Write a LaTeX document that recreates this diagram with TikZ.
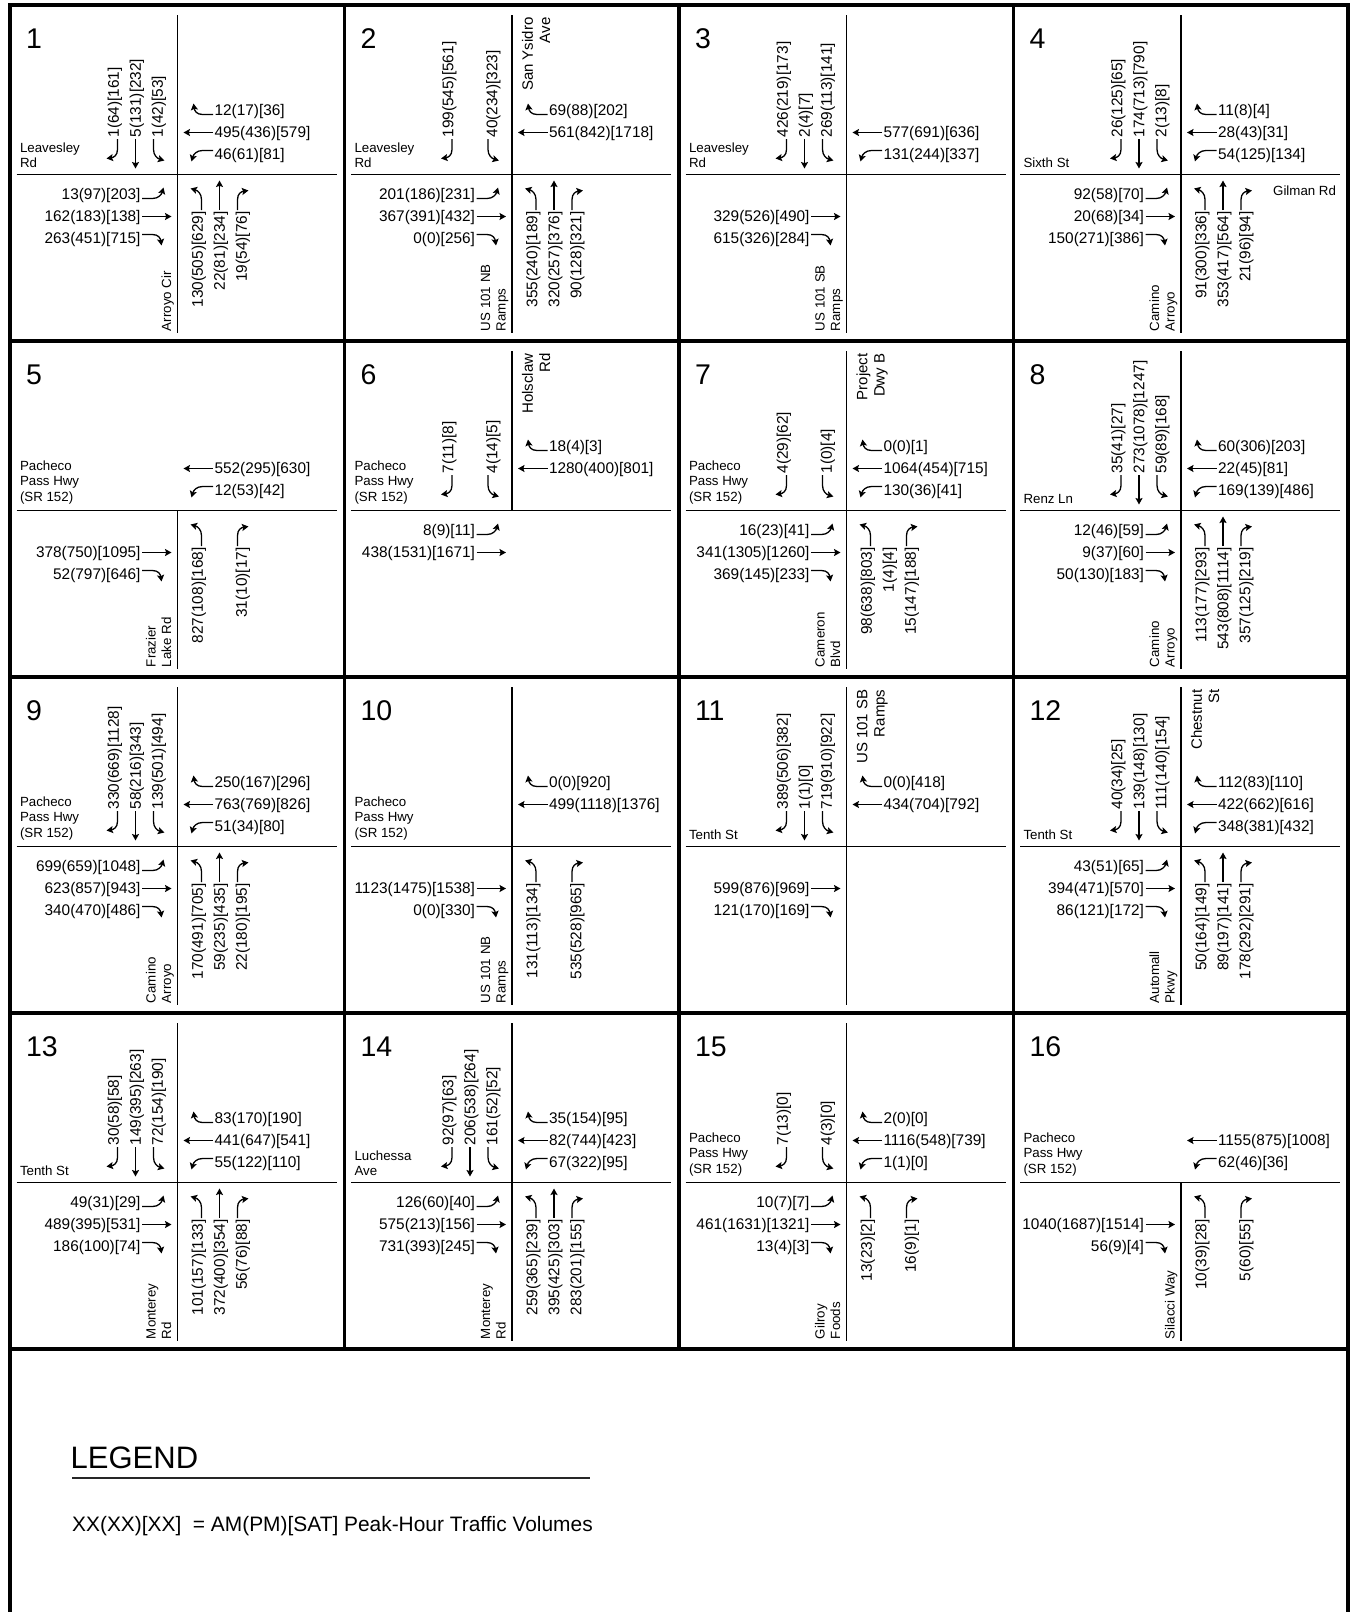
\documentclass[tikz,border=0pt]{standalone}
\usepackage{fontspec}
\setmainfont{Liberation Sans}
\usetikzlibrary{arrows.meta}

\newcommand\fnum{\fontsize{15.4}{18}\selectfont}
\newcommand\fwl{\fontsize{13.3}{15.5}\selectfont}
\newcommand\fnl{\fontsize{15}{17.2}\selectfont}
\newcommand\fcn{\fontsize{28.5}{30}\selectfont}
\newcommand\Lbox[1]{\vbox{\halign{##\hfil\cr#1\crcr}}}
\newcommand\Rbox[1]{\vbox{\halign{\hfil##\cr#1\crcr}}}
\newcommand\offsetR{64}
\newcommand\offsetT{42}
\newcommand\offsetL{20}
\newcommand\armR{\draw[mv] (35.5,-60) -- (25,-60) .. controls (19,-60) and (17,-64) .. (16,-71);}
\newcommand\armT{\draw[mv] (35.5,-42) -- (6,-42);}
\newcommand\armL{\draw[mv] (35.5,-24) -- (25,-24) .. controls (19,-24) and (16,-20) .. (14,-13);}
\newcommand\mvarrow[2]{\begin{scope}[rotate=#1]\csname arm#2\endcsname\end{scope}}
\newcommand\WB[2]{\edef\mydd{\csname offset#1\endcsname}\mvarrow{0}{#1}\node[num,anchor=west] (c\cid-wb#1) at (37,1.5-\mydd) {#2};}
\newcommand\EB[2]{\edef\mydd{\csname offset#1\endcsname}\mvarrow{180}{#1}\node[num,anchor=east] (c\cid-eb#1) at (-37,\mydd+1.5) {#2};}
\newcommand\SB[2]{\edef\mydd{\csname offset#1\endcsname}\mvarrow{90}{#1}\node[num,rotate=90,anchor=west] (c\cid-sb#1) at (1.5-\mydd,-37) {#2};}
\newcommand\NB[2]{\edef\mydd{\csname offset#1\endcsname}\mvarrow{270}{#1}\node[num,rotate=90,anchor=east] (c\cid-nb#1) at (\mydd+1.5,37) {#2};}
\newcommand\NBtxt[2]{\edef\mydd{\csname offset#1\endcsname}\node[num,rotate=90,anchor=east] (c\cid-nb#1) at (\mydd+1.5,37) {#2};}
\newcommand\hroad{\draw[road] (-161,0) -- (159,0);}
\newcommand\vfull{\draw[road] (0,-159.5) -- (0,158.5);}
\newcommand\vlow{\draw[road] (0,0) -- (0,158.5);}
\newcommand\vup{\draw[road] (0,-159.5) -- (0,0);}
\newcommand\CN[1]{\node[cnum,anchor=base west] (c\cid-num) at (-151.5,-126.5) {#1};}
\newcommand\WL[2][-6.7]{\node[wlbl,anchor=base west] (c\cid-w) at (-157.5,#1) {\Lbox{#2}};}
\newcommand\SL[1]{\node[wlbl,rotate=90,anchor=base west] (c\cid-s) at (-6.5,156.5) {\Lbox{#1}};}
\newcommand\NL[1]{\node[nlbl,rotate=90,anchor=base east] (c\cid-n) at (38,-157) {\Rbox{#1}};}

\tikzset{
 num/.style={font=\fnum, inner sep=0pt, outer sep=0pt},
 wlbl/.style={font=\fwl, inner sep=0pt, outer sep=0pt},
 nlbl/.style={font=\fnl, inner sep=0pt, outer sep=0pt},
 cnum/.style={font=\fcn, inner sep=0pt, outer sep=0pt},
 mv/.style={line width=1.3pt, -{Stealth[length=6.5pt,width=7pt,inset=1.2pt]}},
 road/.style={line width=1.4pt},
 gridl/.style={line width=3.2pt},
}

\begin{document}
\begin{tikzpicture}[x=1pt,y=-1pt]
\useasboundingbox (0,0) rectangle (1356,1612);
\fill[white] (0,0) rectangle (1356,1612);
% frame and grid
\draw[gridl] (10,1612) -- (10,5) -- (1348,5) -- (1348,1612);
\foreach \x in {344.5,679,1013.5} \draw[gridl] (\x,5) -- (\x,1349);
\foreach \y in {341,677,1013,1349} \draw[gridl] (10,\y) -- (1348,\y);

% ---- cell 1
\begin{scope}[shift={(177.5,174.5)}]\def\cid{1}
\CN{1}\hroad\vfull
\WL{Leavesley\cr Rd}
\SL{Arroyo Cir}
\WB{R}{12(17)[36]}\WB{T}{495(436)[579]}\WB{L}{46(61)[81]}
\SB{R}{1(64)[161]}\SB{T}{5(131)[232]}\SB{L}{1(42)[53]}
\EB{L}{13(97)[203]}\EB{T}{162(183)[138]}\EB{R}{263(451)[715]}
\NB{L}{130(505)[629]}\NB{T}{22(81)[234]}\NB{R}{19(54)[76]}
\end{scope}
% ---- cell 2
\begin{scope}[shift={(512,174.5)}]\def\cid{2}
\CN{2}\hroad\vfull
\WL{Leavesley\cr Rd}
\SL{US 101 NB\cr Ramps}
\NL{San Ysidro\cr Ave}
\WB{R}{69(88)[202]}\WB{T}{561(842)[1718]}
\SB{R}{199(545)[561]}\SB{L}{40(234)[323]}
\EB{L}{201(186)[231]}\EB{T}{367(391)[432]}\EB{R}{0(0)[256]}
\NB{L}{355(240)[189]}\NB{T}{320(257)[376]}\NB{R}{90(128)[321]}
\end{scope}
% ---- cell 3
\begin{scope}[shift={(846.5,174.5)}]\def\cid{3}
\CN{3}\hroad\vfull
\WL{Leavesley\cr Rd}
\SL{US 101 SB\cr Ramps}
\WB{T}{577(691)[636]}\WB{L}{131(244)[337]}
\SB{R}{426(219)[173]}\SB{T}{2(4)[7]}\SB{L}{269(113)[141]}
\EB{T}{329(526)[490]}\EB{R}{615(326)[284]}
\end{scope}
% ---- cell 4
\begin{scope}[shift={(1181,174.5)}]\def\cid{4}
\CN{4}\hroad\vfull
\WL{Sixth St}
\SL{Camino\cr Arroyo}
\node[wlbl,anchor=east] (c4-e) at (155,16.5) {Gilman Rd};
\WB{R}{11(8)[4]}\WB{T}{28(43)[31]}\WB{L}{54(125)[134]}
\SB{R}{26(125)[65]}\SB{T}{174(713)[790]}\SB{L}{2(13)[8]}
\EB{L}{92(58)[70]}\EB{T}{20(68)[34]}\EB{R}{150(271)[386]}
\NB{L}{91(300)[336]}\NB{T}{353(417)[564]}\NB{R}{21(96)[94]}
\end{scope}
% ---- cell 5
\begin{scope}[shift={(177.5,510.5)}]\def\cid{5}
\CN{5}\hroad\vlow
\WL[-9.5]{Pacheco\cr Pass Hwy\cr (SR 152)}
\SL{Frazier\cr Lake Rd}
\WB{T}{552(295)[630]}\WB{L}{12(53)[42]}
\EB{T}{378(750)[1095]}\EB{R}{52(797)[646]}
\NB{L}{827(108)[168]}\NB{R}{31(10)[17]}
\end{scope}
% ---- cell 6
\begin{scope}[shift={(512,510.5)}]\def\cid{6}
\CN{6}\hroad\vup
\WL[-9.5]{Pacheco\cr Pass Hwy\cr (SR 152)}
\NL{Holsclaw\cr Rd}
\WB{R}{18(4)[3]}\WB{T}{1280(400)[801]}
\SB{R}{7(11)[8]}\SB{L}{4(14)[5]}
\EB{L}{8(9)[11]}\EB{T}{438(1531)[1671]}
\end{scope}
% ---- cell 7
\begin{scope}[shift={(846.5,510.5)}]\def\cid{7}
\CN{7}\hroad\vfull
\WL[-9.5]{Pacheco\cr Pass Hwy\cr (SR 152)}
\SL{Cameron\cr Blvd}
\NL{Project\cr Dwy B}
\WB{R}{0(0)[1]}\WB{T}{1064(454)[715]}\WB{L}{130(36)[41]}
\SB{R}{4(29)[62]}\SB{L}{1(0)[4]}
\EB{L}{16(23)[41]}\EB{T}{341(1305)[1260]}\EB{R}{369(145)[233]}
\NB{L}{98(638)[803]}\NBtxt{T}{1(4)[4]}\NB{R}{15(147)[188]}
\end{scope}
% ---- cell 8
\begin{scope}[shift={(1181,510.5)}]\def\cid{8}
\CN{8}\hroad\vfull
\WL{Renz Ln}
\SL{Camino\cr Arroyo}
\WB{R}{60(306)[203]}\WB{T}{22(45)[81]}\WB{L}{169(139)[486]}
\SB{R}{35(41)[27]}\SB{T}{273(1078)[1247]}\SB{L}{59(89)[168]}
\EB{L}{12(46)[59]}\EB{T}{9(37)[60]}\EB{R}{50(130)[183]}
\NB{L}{113(177)[293]}\NB{T}{543(808)[1114]}\NB{R}{357(125)[219]}
\end{scope}
% ---- cell 9
\begin{scope}[shift={(177.5,846.5)}]\def\cid{9}
\CN{9}\hroad\vfull
\WL[-9.5]{Pacheco\cr Pass Hwy\cr (SR 152)}
\SL{Camino\cr Arroyo}
\WB{R}{250(167)[296]}\WB{T}{763(769)[826]}\WB{L}{51(34)[80]}
\SB{R}{330(669)[1128]}\SB{T}{58(216)[343]}\SB{L}{139(501)[494]}
\EB{L}{699(659)[1048]}\EB{T}{623(857)[943]}\EB{R}{340(470)[486]}
\NB{L}{170(491)[705]}\NB{T}{59(235)[435]}\NB{R}{22(180)[195]}
\end{scope}
% ---- cell 10
\begin{scope}[shift={(512,846.5)}]\def\cid{10}
\CN{10}\hroad\vfull
\WL[-9.5]{Pacheco\cr Pass Hwy\cr (SR 152)}
\SL{US 101 NB\cr Ramps}
\WB{R}{0(0)[920]}\WB{T}{499(1118)[1376]}
\EB{T}{1123(1475)[1538]}\EB{R}{0(0)[330]}
\NB{L}{131(113)[134]}\NB{R}{535(528)[965]}
\end{scope}
% ---- cell 11
\begin{scope}[shift={(846.5,846.5)}]\def\cid{11}
\CN{11}\hroad\vfull
\WL{Tenth St}
\NL{US 101 SB\cr Ramps}
\WB{R}{0(0)[418]}\WB{T}{434(704)[792]}
\SB{R}{389(506)[382]}\SB{T}{1(1)[0]}\SB{L}{719(910)[922]}
\EB{T}{599(876)[969]}\EB{R}{121(170)[169]}
\end{scope}
% ---- cell 12
\begin{scope}[shift={(1181,846.5)}]\def\cid{12}
\CN{12}\hroad\vfull
\WL{Tenth St}
\SL{Automall\cr Pkwy}
\NL{Chestnut\cr St}
\WB{R}{112(83)[110]}\WB{T}{422(662)[616]}\WB{L}{348(381)[432]}
\SB{R}{40(34)[25]}\SB{T}{139(148)[130]}\SB{L}{111(140)[154]}
\EB{L}{43(51)[65]}\EB{T}{394(471)[570]}\EB{R}{86(121)[172]}
\NB{L}{50(164)[149]}\NB{T}{89(197)[141]}\NB{R}{178(292)[291]}
\end{scope}
% ---- cell 13
\begin{scope}[shift={(177.5,1182.5)}]\def\cid{13}
\CN{13}\hroad\vfull
\WL{Tenth St}
\SL{Monterey\cr Rd}
\WB{R}{83(170)[190]}\WB{T}{441(647)[541]}\WB{L}{55(122)[110]}
\SB{R}{30(58)[58]}\SB{T}{149(395)[263]}\SB{L}{72(154)[190]}
\EB{L}{49(31)[29]}\EB{T}{489(395)[531]}\EB{R}{186(100)[74]}
\NB{L}{101(157)[133]}\NB{T}{372(400)[354]}\NB{R}{56(76)[88]}
\end{scope}
% ---- cell 14
\begin{scope}[shift={(512,1182.5)}]\def\cid{14}
\CN{14}\hroad\vfull
\WL{Luchessa\cr Ave}
\SL{Monterey\cr Rd}
\WB{R}{35(154)[95]}\WB{T}{82(744)[423]}\WB{L}{67(322)[95]}
\SB{R}{92(97)[63]}\SB{T}{206(538)[264]}\SB{L}{161(52)[52]}
\EB{L}{126(60)[40]}\EB{T}{575(213)[156]}\EB{R}{731(393)[245]}
\NB{L}{259(365)[239]}\NB{T}{395(425)[303]}\NB{R}{283(201)[155]}
\end{scope}
% ---- cell 15
\begin{scope}[shift={(846.5,1182.5)}]\def\cid{15}
\CN{15}\hroad\vfull
\WL[-9.5]{Pacheco\cr Pass Hwy\cr (SR 152)}
\SL{Gilroy\cr Foods}
\WB{R}{2(0)[0]}\WB{T}{1116(548)[739]}\WB{L}{1(1)[0]}
\SB{R}{7(13)[0]}\SB{L}{4(3)[0]}
\EB{L}{10(7)[7]}\EB{T}{461(1631)[1321]}\EB{R}{13(4)[3]}
\NB{L}{13(23)[2]}\NB{R}{16(9)[1]}
\end{scope}
% ---- cell 16
\begin{scope}[shift={(1181,1182.5)}]\def\cid{16}
\CN{16}\hroad\vlow
\WL[-9.5]{Pacheco\cr Pass Hwy\cr (SR 152)}
\SL{Silacci Way}
\WB{T}{1155(875)[1008]}\WB{L}{62(46)[36]}
\EB{T}{1040(1687)[1514]}\EB{R}{56(9)[4]}
\NB{L}{10(39)[28]}\NB{R}{5(60)[55]}
\end{scope}

% ---- legend
\node[anchor=base west, inner sep=0pt, font=\fontsize{31}{33}\selectfont] (legend) at (70.5,1468.5) {LEGEND};
\coordinate (ulA) at (72,1478);
\coordinate (ulB) at (589.5,1478);
\draw[line width=1.3pt, black!85] (ulA) -- (ulB);
\node[anchor=base west, inner sep=0pt, font=\fontsize{20.9}{24}\selectfont] (legendtext) at (72,1531.5) {XX(XX)[XX]~ = AM(PM)[SAT] Peak-Hour Traffic Volumes};
\end{tikzpicture}
\end{document}
